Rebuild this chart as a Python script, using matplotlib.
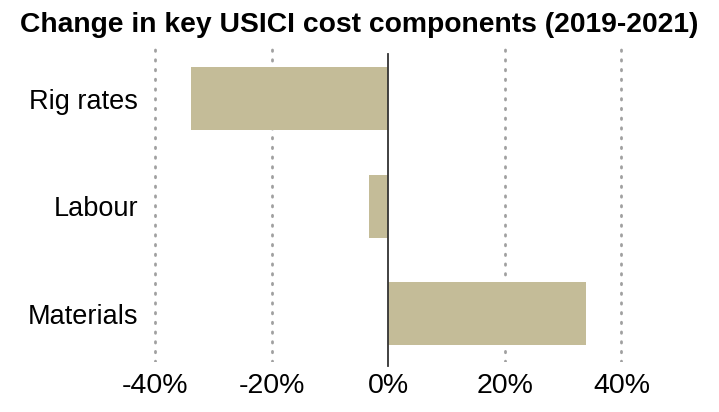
import matplotlib
matplotlib.use('Agg')
from matplotlib import pyplot as plt

# data
categories = ['Rig rates', 'Labour', 'Materials']
changes = [-33.9, -3.3, 33.9]
xticks = [-40, -20, 0, 20, 40]
xtick_labels = ['-40%', '-20%', '0%', '20%', '40%']

plt.rcParams['font.family'] = ['Liberation Sans', 'DejaVu Sans']

fig = plt.figure(figsize=(7.19, 4.12), dpi=100)
ax = fig.add_axes([0.1995, 0.121, 0.681, 0.770])

ypos = list(range(len(categories)))
ax.barh(ypos, changes, height=0.587, color='#c4bc98', zorder=2)
ax.axvline(0, ymin=-0.013, ymax=0.972, color='#333333', lw=1.3, zorder=3,
           clip_on=False)

for x in [-40, -20, 20, 40]:
    ax.axvline(x, color='#a0a0a0', lw=2, ls=(0, (0.5, 3)),
               dash_capstyle='round', zorder=1)

ax.set_xlim(-42, 42)
ax.set_ylim(2.45, -0.5)
ax.set_yticks(ypos)
ax.set_yticklabels(categories, fontsize=19.5)
ax.set_xticks(xticks)
ax.set_xticklabels(xtick_labels, fontsize=20.5)
ax.tick_params(length=0, pad=4)
ax.tick_params(axis='x', pad=8)
for spine in ax.spines.values():
    spine.set_visible(False)

fig.text(0.5, 0.94, 'Change in key USICI cost components (2019-2021)',
         ha='center', va='center', fontsize=20.3, fontweight='bold')

plt.savefig('out.png', dpi=100)
